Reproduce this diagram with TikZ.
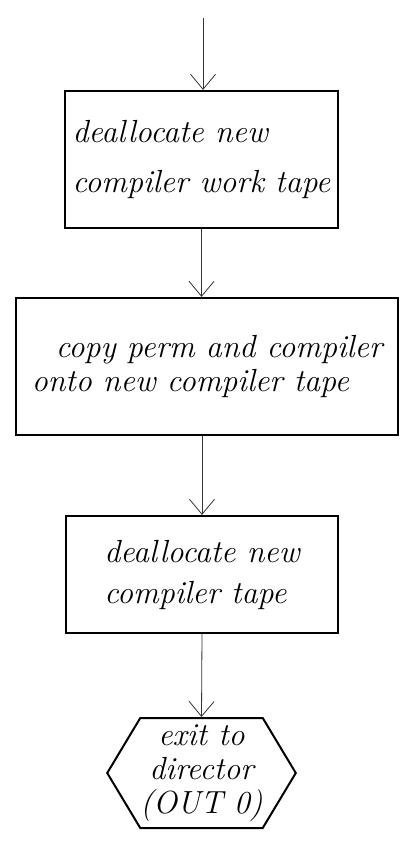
\documentclass[tikz,border=0pt]{standalone}
\usepackage{tikz}
\usetikzlibrary{shapes.symbols,arrows.meta,positioning}
\newcommand{\handfont}{\itshape\fontsize{16}{17}\selectfont}

\begin{document}
\begin{tikzpicture}[x=0.5pt, y=-0.5pt,
    box/.style={rectangle, draw, line width=1.1pt, align=left, font=\handfont, inner sep=0pt},
    hexa/.style={signal, signal to=west and east, signal pointer angle=118, draw, line width=1pt, align=center, font=\handfont, inner sep=0pt},
    arr/.style={-{Straight Barb[length=7.5pt, width=12.5pt]}, thin, black!80}
]
    \useasboundingbox (0,0) rectangle (401,850);

    \coordinate (in) at (203,18);
    \node[box, minimum width=136.5pt, minimum height=68.5pt] (work) at (201.5,159.5)
        {deallocate new\\[8pt]compiler work tape};
    \node[box, minimum width=191pt, minimum height=68.5pt] (copy) at (207,366.5)
        {\hspace{12pt}copy perm and compiler\\onto new compiler tape};
    \node[box, minimum width=136pt, minimum height=58.5pt] (tape) at (202,574.5)
        {deallocate new\\[3.5pt]compiler tape};
    \node[hexa, minimum width=89.5pt, minimum height=55pt] (exit) at (201.5,773)
        {exit to\\director\\(OUT 0)};

    \draw[arr] (in) -- (in |- work.north);
    \draw[arr] (work.south) -- (work.south |- copy.north);
    \draw[arr] (copy.south -| tape.north) -- (tape.north);
    \draw[arr] (tape.south) -- (exit.north);
\end{tikzpicture}
\end{document}
